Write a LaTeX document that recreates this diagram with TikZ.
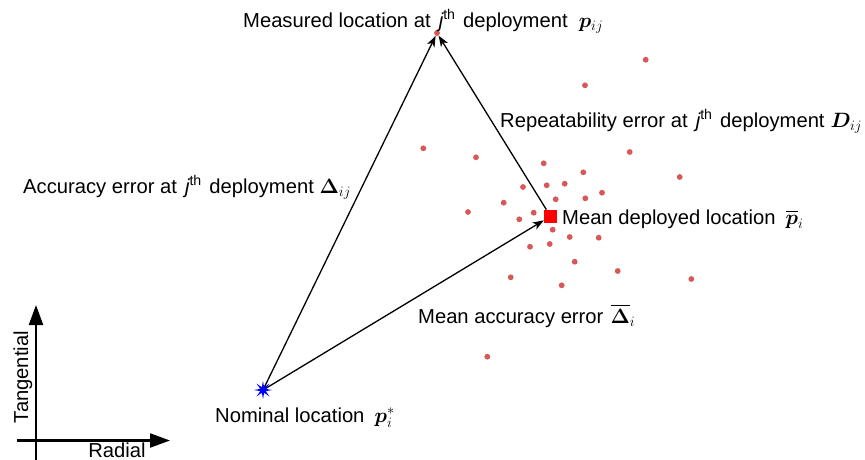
\documentclass[tikz,border=0pt]{standalone}
\usepackage{amsmath,bm}
\usepackage{fontspec}
\setmainfont{Liberation Sans}
\usetikzlibrary{arrows.meta,shapes.geometric}

\definecolor{dotred}{RGB}{214,88,88}
\newcommand\jth{\hspace{0.4em}{\itshape j}\textsuperscript{th}\hspace{0.1em}}

\tikzset{
  lbl/.style={font=\fontsize{20.2pt}{24pt}\selectfont, inner sep=0pt, anchor=base west},
  scatterdot/.style={circle, fill=dotred, draw=none, minimum size=5.8pt, inner sep=0pt},
  errarrow/.style={line width=1.3pt, -{Stealth[length=11pt,width=8pt,inset=3pt]}},
  axisarrow/.style={line width=2.3pt, -{Triangle[length=20pt,width=14pt]}},
}

\begin{document}
\begin{tikzpicture}[x=1pt,y=-1pt]
  \fill[white] (0,0) rectangle (865,459);
  \useasboundingbox (0,0) rectangle (865,459);

  % scatter of deployed locations
  \foreach \px/\py in {645.7/59.7, 585/85.3, 423.3/148.3, 476/157.3, 543.7/163.3,
      629.7/152, 583.3/172.3, 679.7/177, 523/187, 546.7/185.3, 564.7/183.7,
      503.7/202.7, 555.7/199.3, 585.3/198.3, 602/192.7, 468/212, 519.3/219.3,
      533.7/212.7, 552.7/229.7, 569.7/237, 598.7/237.7, 530/246.7, 549.7/244,
      574.7/261.7, 617.7/271, 510.7/277.3, 561.7/285.3, 691.3/279, 487.3/356.7}
    \fill[dotred] (\px,\py) circle[radius=2.9pt];

  % key points
  \node (meas) [scatterdot] at (437,33) {};
  \node (mean) [fill=red, draw=none, minimum size=13pt, inner sep=0pt] at (550.5,216.3) {};
  \coordinate (nom) at (263,390);

  % error vectors
  \draw[errarrow] (nom) -- (meas);
  \draw[errarrow] (nom) -- (mean);
  \draw[errarrow] (mean) -- (meas);

  \node (nomstar) [star, star points=8, star point ratio=3, minimum size=18pt,
                   inner sep=0pt, fill=blue, draw=none] at (nom) {};

  % labels
  \node (measlbl) [lbl] at (243,27) {Measured location at\jth\ deployment\hspace{0.55em}$\bm{p}_{ij}$};
  \node (replbl)  [lbl] at (500,127) {Repeatability error at\jth\ deployment\hspace{0.3em}$\bm{D}_{ij}$};
  \node (acclbl)  [lbl] at (23,193) {Accuracy error at\jth\ deployment $\bm{\Delta}_{ij}$};
  \node (meanlbl) [lbl] at (562,224) {Mean deployed location\hspace{0.5em}$\overline{\bm{p}}_i$};
  \node (macclbl) [lbl] at (418,323) {Mean accuracy error\hspace{0.35em}$\overline{\bm{\Delta}}_i$};
  \node (nomlbl)  [lbl] at (215,422) {Nominal location\hspace{0.5em}$\bm{p}_i^*$};

  % radial / tangential axes
  \coordinate (vbot) at (36,462);
  \coordinate (vtop) at (36,305);
  \coordinate (hleft) at (17,440.5);
  \coordinate (hright) at (170,440.5);
  \draw[axisarrow] (vbot) -- (vtop);
  \draw[axisarrow] (hleft) -- (hright);
  \node (tanlbl) [lbl, anchor=base, rotate=90] at (28,377) {Tangential};
  \node (radlbl) [lbl, anchor=base] at (117,457.5) {Radial};
\end{tikzpicture}
\end{document}
